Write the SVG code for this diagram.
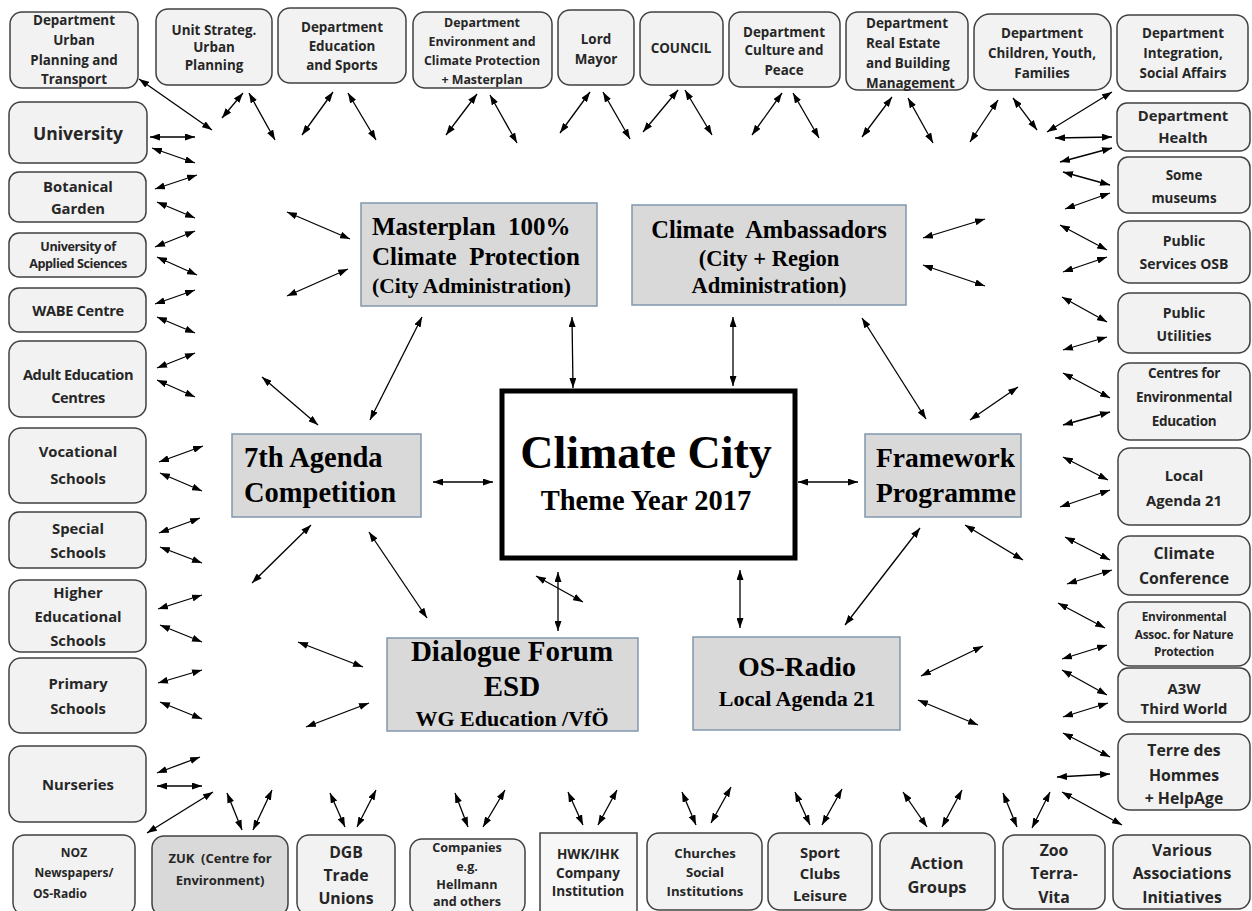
<svg xmlns="http://www.w3.org/2000/svg" width="1252" height="911" viewBox="0 0 1252 911">
<defs>
<marker id="ah" viewBox="0 0 10 7" refX="10" refY="3.5" markerWidth="10" markerHeight="7" markerUnits="userSpaceOnUse" orient="auto-start-reverse"><path d="M0,0 L10,3.5 L0,7 z" fill="#000"/></marker>
<style>
.b{fill:#f2f2f2;stroke:#404040;stroke-width:1.5}
.bz{fill:#d9d9d9;stroke:#404040;stroke-width:1.5}
.c{fill:#d9d9d9;stroke:#8096ad;stroke-width:1.5}
.t{font-family:"Open Sans","Liberation Sans",sans-serif;font-weight:700;fill:#262626;text-anchor:middle;dominant-baseline:central}
.s{font-family:"Liberation Serif","Times New Roman",serif;font-weight:bold;fill:#000;white-space:pre}
.a line{stroke:#000;stroke-width:1.3;marker-start:url(#ah);marker-end:url(#ah)}
</style>
</defs>
<rect width="1252" height="911" fill="#fff"/>

<!-- top row -->
<g id="n-urban"><rect class="b" x="10" y="12" width="128" height="76" rx="12"/><text class="t" font-size="13.4"><tspan x="74" y="20">Department</tspan><tspan x="74" y="40">Urban</tspan><tspan x="74" y="60">Planning and</tspan><tspan x="74" y="79">Transport</tspan></text></g>
<g id="n-strateg"><rect class="b" x="156" y="9" width="116" height="76" rx="12"/><text class="t" font-size="13.4"><tspan x="214" y="30">Unit Strateg.</tspan><tspan x="214" y="47">Urban</tspan><tspan x="214" y="65">Planning</tspan></text></g>
<g id="n-education"><rect class="b" x="278" y="8" width="128" height="75" rx="12"/><text class="t" font-size="13.4"><tspan x="342" y="27">Department</tspan><tspan x="342" y="46">Education</tspan><tspan x="342" y="65">and Sports</tspan></text></g>
<g id="n-environment"><rect class="b" x="413" y="12" width="139" height="76" rx="12"/><text class="t" font-size="12.4"><tspan x="482" y="22">Department</tspan><tspan x="482" y="41">Environment and</tspan><tspan x="482" y="60">Climate Protection</tspan><tspan x="482" y="79">+ Masterplan</tspan></text></g>
<g id="n-mayor"><rect class="b" x="558" y="10" width="76" height="75" rx="12"/><text class="t" font-size="13.4"><tspan x="596" y="39">Lord</tspan><tspan x="596" y="59">Mayor</tspan></text></g>
<g id="n-council"><rect class="b" x="640" y="12" width="83" height="73" rx="12"/><text class="t" font-size="13.4"><tspan x="681" y="48">COUNCIL</tspan></text></g>
<g id="n-culture"><rect class="b" x="729" y="12" width="111" height="75" rx="12"/><text class="t" font-size="13.4"><tspan x="784" y="32">Department</tspan><tspan x="784" y="50">Culture and</tspan><tspan x="784" y="70">Peace</tspan></text></g>
<g id="n-realestate"><rect class="b" x="846" y="12" width="122" height="78" rx="12"/><text class="t" font-size="13.4" style="text-anchor:start"><tspan x="866" y="23">Department</tspan><tspan x="866" y="43">Real Estate</tspan><tspan x="866" y="63">and Building</tspan><tspan x="866" y="83">Management</tspan></text></g>
<g id="n-children"><rect class="b" x="974" y="14" width="137" height="76" rx="16"/><text class="t" font-size="13.4"><tspan x="1042" y="33">Department</tspan><tspan x="1042" y="53">Children, Youth,</tspan><tspan x="1042" y="73">Families</tspan></text></g>
<g id="n-integration"><rect class="b" x="1117" y="15" width="131" height="76" rx="12"/><text class="t" font-size="13.4"><tspan x="1183" y="33">Department</tspan><tspan x="1183" y="53">Integration,</tspan><tspan x="1183" y="73">Social Affairs</tspan></text></g>

<!-- left column -->
<g id="n-university"><rect class="b" x="9" y="102" width="138" height="61" rx="12"/><text class="t" font-size="17.5"><tspan x="78" y="133">University</tspan></text></g>
<g id="n-botanical"><rect class="b" x="9" y="172" width="137" height="50" rx="10"/><text class="t" font-size="14.8"><tspan x="78" y="186">Botanical</tspan><tspan x="78" y="208">Garden</tspan></text></g>
<g id="n-appliedsci"><rect class="b" x="9" y="233" width="137" height="44" rx="10"/><text class="t" font-size="12.6" letter-spacing="-0.4"><tspan x="78" y="246">University of</tspan><tspan x="78" y="263">Applied Sciences</tspan></text></g>
<g id="n-wabe"><rect class="b" x="9" y="288" width="137" height="44" rx="10"/><text class="t" font-size="14.6" letter-spacing="-0.3"><tspan x="78" y="310">WABE Centre</tspan></text></g>
<g id="n-adult"><rect class="b" x="9" y="341" width="137" height="76" rx="12"/><text class="t" font-size="14.6" letter-spacing="-0.4"><tspan x="78" y="374">Adult Education</tspan><tspan x="78" y="397">Centres</tspan></text></g>
<g id="n-vocational"><rect class="b" x="9" y="428" width="137" height="75" rx="12"/><text class="t" font-size="14.8"><tspan x="78" y="451">Vocational</tspan><tspan x="78" y="478">Schools</tspan></text></g>
<g id="n-special"><rect class="b" x="9" y="512" width="137" height="56" rx="10"/><text class="t" font-size="14.8"><tspan x="78" y="528">Special</tspan><tspan x="78" y="552">Schools</tspan></text></g>
<g id="n-higher"><rect class="b" x="9" y="580" width="137" height="72" rx="12"/><text class="t" font-size="14.8"><tspan x="78" y="592">Higher</tspan><tspan x="78" y="616">Educational</tspan><tspan x="78" y="640">Schools</tspan></text></g>
<g id="n-primary"><rect class="b" x="9" y="658" width="137" height="75" rx="12"/><text class="t" font-size="14.8"><tspan x="78" y="683">Primary</tspan><tspan x="78" y="708">Schools</tspan></text></g>
<g id="n-nurseries"><rect class="b" x="9" y="746" width="137" height="76" rx="12"/><text class="t" font-size="14.8"><tspan x="78" y="784">Nurseries</tspan></text></g>

<!-- bottom row -->
<g id="n-noz"><rect class="b" x="13" y="835" width="122" height="80" rx="12"/><text class="t" font-size="12"><tspan x="74" y="852">NOZ</tspan><tspan x="74" y="872">Newspapers/</tspan><tspan x="60" y="893">OS-Radio</tspan></text></g>
<g id="n-zuk"><rect class="bz" x="152" y="836" width="136" height="80" rx="12"/><text class="t" font-size="13" style="white-space:pre"><tspan x="220" y="858">ZUK  (Centre for</tspan><tspan x="220" y="880">Environment)</tspan></text></g>
<g id="n-dgb"><rect class="b" x="297" y="835" width="98" height="80" rx="12"/><text class="t" font-size="15.8"><tspan x="346" y="852">DGB</tspan><tspan x="346" y="875">Trade</tspan><tspan x="346" y="898">Unions</tspan></text></g>
<g id="n-companies"><rect class="b" x="410" y="839" width="115" height="76" rx="12"/><text class="t" font-size="12.6"><tspan x="467" y="847">Companies</tspan><tspan x="467" y="866">e.g.</tspan><tspan x="467" y="884">Hellmann</tspan><tspan x="467" y="901">and others</tspan></text></g>
<g id="n-hwk"><rect x="540" y="833" width="97" height="82" fill="#f7f7f7" stroke="#404040" stroke-width="1.5"/><text class="t" font-size="13.6"><tspan x="588" y="853">HWK/IHK</tspan><tspan x="588" y="872">Company</tspan><tspan x="588" y="890">Institution</tspan></text></g>
<g id="n-churches"><rect class="b" x="647" y="833" width="115" height="77" rx="12"/><text class="t" font-size="13.2"><tspan x="705" y="853">Churches</tspan><tspan x="705" y="872">Social</tspan><tspan x="705" y="891">Institutions</tspan></text></g>
<g id="n-sport"><rect class="b" x="768" y="833" width="104" height="77" rx="12"/><text class="t" font-size="14.8"><tspan x="820" y="852">Sport</tspan><tspan x="820" y="873">Clubs</tspan><tspan x="820" y="895">Leisure</tspan></text></g>
<g id="n-action"><rect class="b" x="880" y="833" width="115" height="77" rx="12"/><text class="t" font-size="16.5"><tspan x="937" y="862">Action</tspan><tspan x="937" y="886">Groups</tspan></text></g>
<g id="n-zoo"><rect class="b" x="1003" y="835" width="102" height="74" rx="12"/><text class="t" font-size="15.8"><tspan x="1054" y="850">Zoo</tspan><tspan x="1054" y="873">Terra-</tspan><tspan x="1054" y="897">Vita</tspan></text></g>
<g id="n-various"><rect class="b" x="1113" y="835" width="137" height="74" rx="12"/><text class="t" font-size="15.8"><tspan x="1182" y="850">Various</tspan><tspan x="1182" y="873">Associations</tspan><tspan x="1182" y="897">Initiatives</tspan></text></g>

<!-- right column -->
<g id="n-health"><rect class="b" x="1117" y="103" width="133" height="48" rx="10"/><text class="t" font-size="14.8"><tspan x="1183" y="115">Department</tspan><tspan x="1183" y="137">Health</tspan></text></g>
<g id="n-museums"><rect class="b" x="1118" y="157" width="132" height="56" rx="10"/><text class="t" font-size="13.4"><tspan x="1184" y="175">Some</tspan><tspan x="1184" y="198">museums</tspan></text></g>
<g id="n-osb"><rect class="b" x="1118" y="221" width="132" height="62" rx="12"/><text class="t" font-size="14"><tspan x="1184" y="240">Public</tspan><tspan x="1184" y="263">Services OSB</tspan></text></g>
<g id="n-utilities"><rect class="b" x="1118" y="293" width="132" height="60" rx="12"/><text class="t" font-size="14"><tspan x="1184" y="312">Public</tspan><tspan x="1184" y="335">Utilities</tspan></text></g>
<g id="n-envedu"><rect class="b" x="1118" y="363" width="132" height="77" rx="12"/><text class="t" font-size="13.5" letter-spacing="-0.3"><tspan x="1184" y="373">Centres for</tspan><tspan x="1184" y="397">Environmental</tspan><tspan x="1184" y="421">Education</tspan></text></g>
<g id="n-agenda21"><rect class="b" x="1118" y="448" width="132" height="77" rx="12"/><text class="t" font-size="14.8"><tspan x="1184" y="475">Local</tspan><tspan x="1184" y="500">Agenda 21</tspan></text></g>
<g id="n-conference"><rect class="b" x="1118" y="536" width="132" height="59" rx="12"/><text class="t" font-size="15.8"><tspan x="1184" y="553">Climate</tspan><tspan x="1184" y="578">Conference</tspan></text></g>
<g id="n-envassoc"><rect class="b" x="1118" y="602" width="132" height="64" rx="12"/><text class="t" font-size="11.8" letter-spacing="-0.2"><tspan x="1184" y="616">Environmental</tspan><tspan x="1184" y="634">Assoc. for Nature</tspan><tspan x="1184" y="651">Protection</tspan></text></g>
<g id="n-a3w"><rect class="b" x="1118" y="668" width="132" height="54" rx="10"/><text class="t" font-size="14.8"><tspan x="1184" y="688">A3W</tspan><tspan x="1184" y="708">Third World</tspan></text></g>
<g id="n-terre"><rect class="b" x="1118" y="734" width="132" height="76" rx="12"/><text class="t" font-size="15.8"><tspan x="1184" y="750">Terre des</tspan><tspan x="1184" y="775">Hommes</tspan><tspan x="1184" y="798">+ HelpAge</tspan></text></g>

<!-- central nodes -->
<g id="n-masterplan"><rect class="c" x="361" y="203" width="236" height="103"/><text class="s"><tspan x="372" y="235" font-size="25">Masterplan  100%</tspan><tspan x="372" y="265" font-size="25">Climate  Protection</tspan><tspan x="372" y="293" font-size="21.5">(City Administration)</tspan></text></g>
<g id="n-ambassadors"><rect class="c" x="632" y="205" width="274" height="100"/><text class="s" text-anchor="middle"><tspan x="769" y="238" font-size="24.5">Climate  Ambassadors</tspan><tspan x="769" y="266" font-size="22.5">(City + Region</tspan><tspan x="769" y="293" font-size="22.5">Administration)</tspan></text></g>
<g id="n-center"><rect x="502" y="391" width="293" height="167" fill="#fff" stroke="#000" stroke-width="5"/><text class="s" text-anchor="middle"><tspan x="646" y="468" font-size="46">Climate City</tspan><tspan x="646" y="510" font-size="28.5">Theme Year 2017</tspan></text></g>
<g id="n-agenda"><rect class="c" x="232" y="434" width="189" height="83"/><text class="s"><tspan x="244" y="467" font-size="28.5">7th Agenda</tspan><tspan x="244" y="502" font-size="28.5">Competition</tspan></text></g>
<g id="n-framework"><rect class="c" x="865" y="434" width="156" height="83"/><text class="s"><tspan x="876" y="467" font-size="27.5">Framework</tspan><tspan x="876" y="502" font-size="27.5">Programme</tspan></text></g>
<g id="n-dialogue"><rect class="c" x="387" y="638" width="251" height="93"/><text class="s" text-anchor="middle"><tspan x="512" y="661" font-size="29">Dialogue Forum</tspan><tspan x="512" y="696" font-size="29">ESD</tspan><tspan x="512" y="726" font-size="22">WG Education /VfÖ</tspan></text></g>
<g id="n-osradio"><rect class="c" x="693" y="637" width="207" height="93"/><text class="s" text-anchor="middle"><tspan x="797" y="676" font-size="28">OS-Radio</tspan><tspan x="797" y="706" font-size="22">Local Agenda 21</tspan></text></g>

<g id="connectors" class="a">
<line x1="139" y1="79" x2="212" y2="130"/>
<line x1="243" y1="93" x2="222" y2="118"/>
<line x1="249" y1="93" x2="275" y2="140"/>
<line x1="333" y1="92" x2="302" y2="135"/>
<line x1="348" y1="93" x2="376" y2="140"/>
<line x1="477" y1="94" x2="446" y2="135"/>
<line x1="490" y1="95" x2="517" y2="143"/>
<line x1="590" y1="92" x2="560" y2="133"/>
<line x1="603" y1="92" x2="630" y2="139"/>
<line x1="678" y1="90" x2="643" y2="132"/>
<line x1="685" y1="90" x2="712" y2="135"/>
<line x1="782" y1="93" x2="752" y2="135"/>
<line x1="793" y1="93" x2="819" y2="138"/>
<line x1="892" y1="97" x2="862" y2="137"/>
<line x1="908" y1="98" x2="933" y2="143"/>
<line x1="998" y1="100" x2="970" y2="142"/>
<line x1="1013" y1="98" x2="1037" y2="130"/>
<line x1="1112" y1="92" x2="1047" y2="132"/>
<line x1="1055" y1="138" x2="1112" y2="137"/>
<line x1="1112" y1="148" x2="1060" y2="162"/>
<line x1="1063" y1="172" x2="1110" y2="185"/>
<line x1="1110" y1="193" x2="1065" y2="209"/>
<line x1="1060" y1="225" x2="1107" y2="250"/>
<line x1="1107" y1="257" x2="1063" y2="272"/>
<line x1="1062" y1="297" x2="1107" y2="322"/>
<line x1="1107" y1="337" x2="1063" y2="350"/>
<line x1="1063" y1="373" x2="1110" y2="398"/>
<line x1="1110" y1="412" x2="1063" y2="425"/>
<line x1="1063" y1="457" x2="1108" y2="480"/>
<line x1="1110" y1="490" x2="1060" y2="507"/>
<line x1="1065" y1="537" x2="1110" y2="560"/>
<line x1="1112" y1="570" x2="1067" y2="584"/>
<line x1="1058" y1="603" x2="1105" y2="628"/>
<line x1="1107" y1="645" x2="1062" y2="659"/>
<line x1="1062" y1="670" x2="1107" y2="695"/>
<line x1="1108" y1="703" x2="1063" y2="717"/>
<line x1="1063" y1="733" x2="1110" y2="757"/>
<line x1="1110" y1="774" x2="1057" y2="777"/>
<line x1="1062" y1="792" x2="1122" y2="825"/>
<line x1="1050" y1="792" x2="1032" y2="828"/>
<line x1="1003" y1="793" x2="1017" y2="827"/>
<line x1="962" y1="790" x2="942" y2="827"/>
<line x1="903" y1="792" x2="927" y2="827"/>
<line x1="842" y1="789" x2="822" y2="825"/>
<line x1="795" y1="792" x2="810" y2="825"/>
<line x1="731" y1="787" x2="711" y2="823"/>
<line x1="682" y1="792" x2="696" y2="825"/>
<line x1="617" y1="790" x2="598" y2="825"/>
<line x1="568" y1="792" x2="583" y2="825"/>
<line x1="505" y1="790" x2="483" y2="827"/>
<line x1="455" y1="793" x2="468" y2="827"/>
<line x1="376" y1="790" x2="357" y2="827"/>
<line x1="330" y1="793" x2="345" y2="827"/>
<line x1="272" y1="790" x2="253" y2="830"/>
<line x1="227" y1="793" x2="242" y2="830"/>
<line x1="213" y1="792" x2="147" y2="833"/>
<line x1="157" y1="786" x2="202" y2="786"/>
<line x1="157" y1="773" x2="200" y2="757"/>
<line x1="160" y1="702" x2="202" y2="719"/>
<line x1="158" y1="683" x2="202" y2="670"/>
<line x1="160" y1="625" x2="202" y2="642"/>
<line x1="158" y1="609" x2="202" y2="595"/>
<line x1="160" y1="547" x2="202" y2="563"/>
<line x1="159" y1="533" x2="200" y2="518"/>
<line x1="160" y1="473" x2="202" y2="491"/>
<line x1="159" y1="462" x2="203" y2="446"/>
<line x1="157" y1="380" x2="195" y2="397"/>
<line x1="157" y1="368" x2="195" y2="353"/>
<line x1="157" y1="317" x2="195" y2="333"/>
<line x1="155" y1="304" x2="195" y2="290"/>
<line x1="157" y1="257" x2="197" y2="275"/>
<line x1="155" y1="247" x2="195" y2="231"/>
<line x1="157" y1="202" x2="195" y2="218"/>
<line x1="155" y1="189" x2="197" y2="175"/>
<line x1="152" y1="148" x2="195" y2="163"/>
<line x1="150" y1="137" x2="195" y2="137"/>
<line x1="287" y1="212" x2="350" y2="239"/>
<line x1="348" y1="269" x2="287" y2="296"/>
<line x1="422" y1="317" x2="370" y2="420"/>
<line x1="572" y1="317" x2="573" y2="388"/>
<line x1="262" y1="377" x2="318" y2="425"/>
<line x1="433" y1="482" x2="493" y2="482"/>
<line x1="311" y1="525" x2="252" y2="583"/>
<line x1="369" y1="532" x2="427" y2="618"/>
<line x1="536" y1="576" x2="583" y2="602"/>
<line x1="558" y1="572" x2="558" y2="631"/>
<line x1="298" y1="642" x2="363" y2="667"/>
<line x1="369" y1="703" x2="306" y2="727"/>
<line x1="923" y1="238" x2="985" y2="219"/>
<line x1="923" y1="265" x2="985" y2="286"/>
<line x1="733" y1="317" x2="733" y2="386"/>
<line x1="862" y1="318" x2="926" y2="419"/>
<line x1="798" y1="482" x2="858" y2="482"/>
<line x1="970" y1="420" x2="1018" y2="387"/>
<line x1="965" y1="525" x2="1023" y2="560"/>
<line x1="920" y1="528" x2="845" y2="625"/>
<line x1="740" y1="570" x2="740" y2="628"/>
<line x1="921" y1="676" x2="983" y2="646"/>
<line x1="918" y1="700" x2="978" y2="725"/>
</g>
</svg>
